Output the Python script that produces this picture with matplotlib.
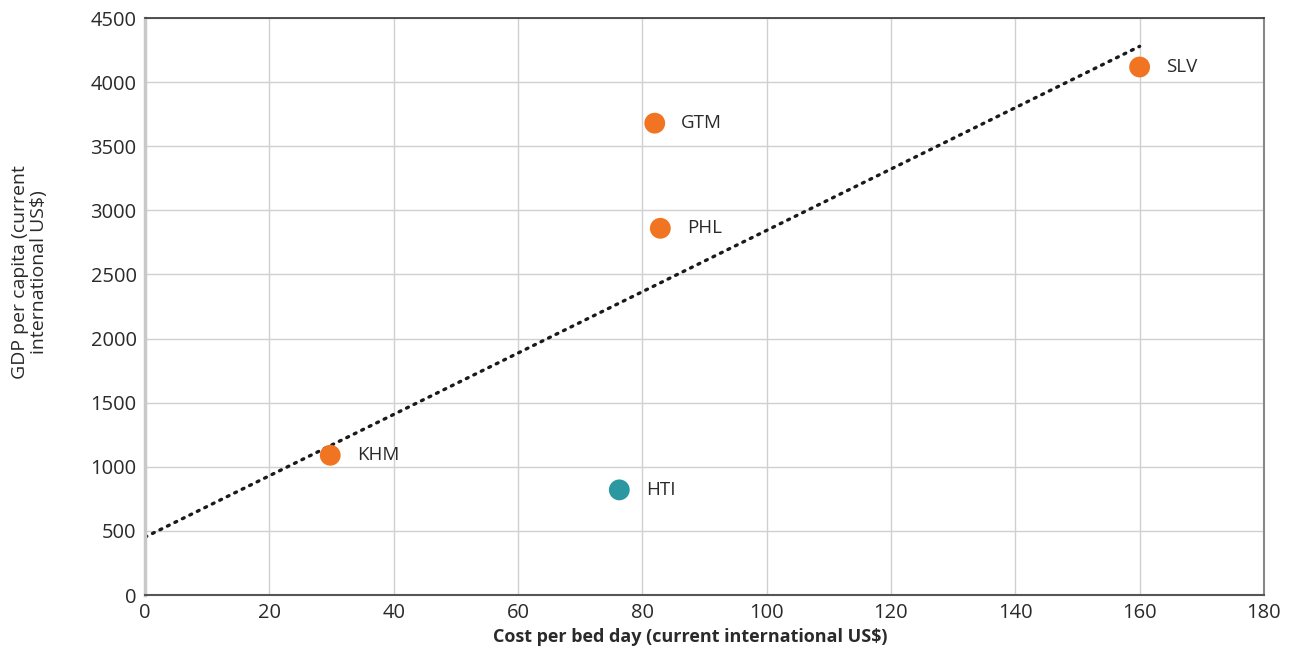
import numpy as np
import matplotlib
matplotlib.use("Agg")
import matplotlib.pyplot as plt
from matplotlib import font_manager

# Country data: cost per bed day vs GDP per capita
countries = ["SLV", "GTM", "PHL", "KHM", "HTI"]
cost_per_bed_day = [160.0, 82.0, 82.9, 29.8, 76.3]
gdp_per_capita = [4118, 3680, 2860, 1090, 820]
point_colors = ["#F07421", "#F07421", "#F07421", "#F07421", "#2B97A0"]

x_ticks = [0, 20, 40, 60, 80, 100, 120, 140, 160, 180]
y_ticks = [0, 500, 1000, 1500, 2000, 2500, 3000, 3500, 4000, 4500]

available = {f.name for f in font_manager.fontManager.ttflist}
family = "Liberation Sans Narrow" if "Liberation Sans Narrow" in available else "Open Sans"
plt.rcParams["font.family"] = [family, "DejaVu Sans"]

fig = plt.figure(figsize=(12.9, 6.53), dpi=100)
ax = fig.add_axes([0.1124, 0.0888, 0.9798 - 0.1124, 0.9724 - 0.0888])

ax.set_xlim(0, 180)
ax.set_ylim(0, 4500)
ax.set_xticks(x_ticks)
ax.set_yticks(y_ticks)
ax.grid(True, color="#D0D0D0", linewidth=1.0)
ax.set_axisbelow(True)

# Linear trend across all countries
slope, intercept = np.polyfit(cost_per_bed_day, gdp_per_capita, 1)
xs = np.array([0, max(cost_per_bed_day)])
ax.plot(xs, slope * xs + intercept, color="#1a1a1a", linewidth=2.4,
        linestyle=(0, (0.6, 1.9)), dash_capstyle="round", zorder=2)

ax.scatter(cost_per_bed_day, gdp_per_capita, s=225, c=point_colors,
           edgecolors="none", zorder=3)
for name, x, y in zip(countries, cost_per_bed_day, gdp_per_capita):
    ax.annotate(name, (x, y), xytext=(19, 0), textcoords="offset points",
                va="center", ha="left", fontsize=13.5, color="#2a2a2a")

for side, col, lw in [("left", "#C8C8C8", 2.5), ("bottom", "#555555", 1.5),
                      ("top", "#333333", 1.2), ("right", "#888888", 1.5)]:
    ax.spines[side].set_color(col)
    ax.spines[side].set_linewidth(lw)

ax.tick_params(axis="both", length=0, labelsize=14.5, labelcolor="#2a2a2a")
ax.tick_params(axis="x", pad=6)
ax.tick_params(axis="y", pad=6)

ax.set_xlabel("Cost per bed day (current international US$)", fontsize=13,
              fontweight="bold", color="#2a2a2a")
ax.xaxis.set_label_coords(0.487, -0.058)
ax.set_ylabel("GDP per capita (current\ninternational US$)", fontsize=14,
              color="#2a2a2a", linespacing=1.05)
ax.yaxis.set_label_coords(-0.087, 0.56)

fig.savefig("out.png", dpi=100)
